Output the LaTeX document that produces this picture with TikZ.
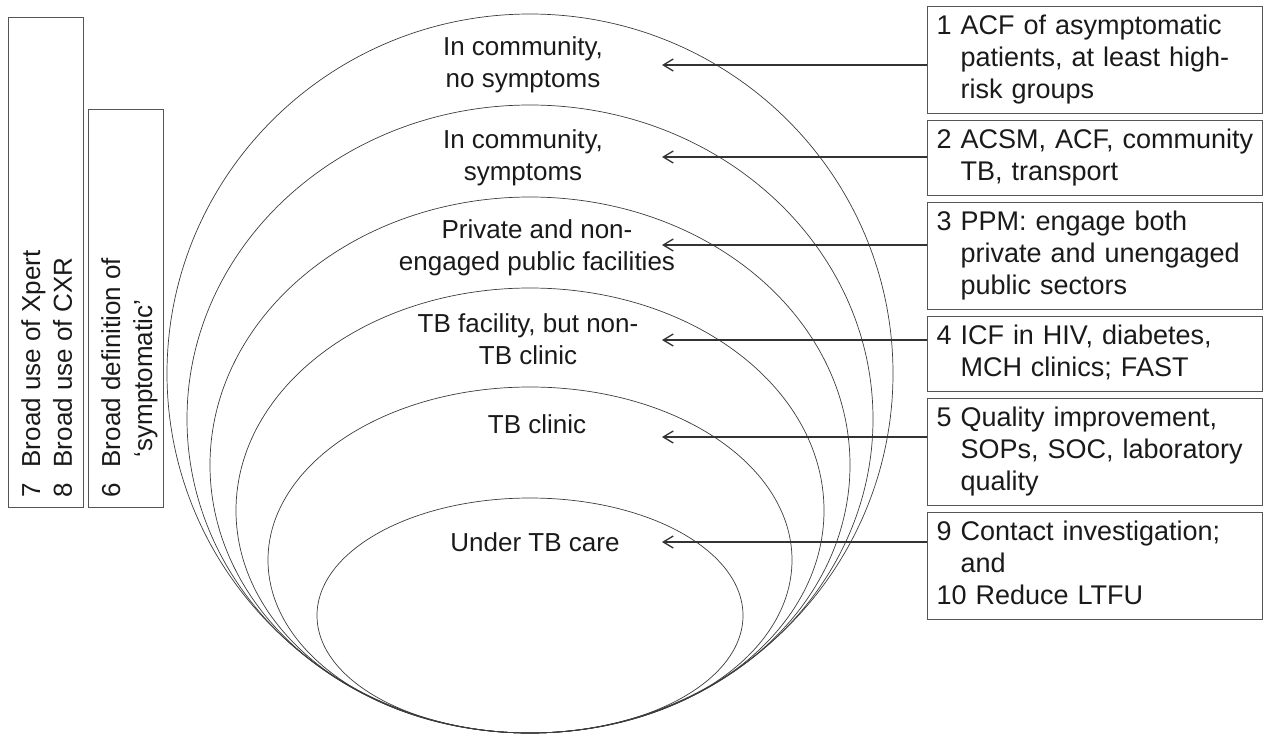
\documentclass[tikz,border=0pt]{standalone}
\usepackage{fontspec}
\setmainfont{Liberation Sans}
\usetikzlibrary{arrows.meta,positioning}
\definecolor{Ink}{HTML}{1A1A1A}
\definecolor{Frame}{HTML}{555555}
\definecolor{Ring}{HTML}{3C3C3C}
\definecolor{Pointer}{HTML}{333333}

\begin{document}
\begin{tikzpicture}[x=1pt, y=-1pt,
    every node/.style={font=\fontsize{26}{32}\selectfont, text=Ink, inner sep=0pt},
    ring/.style={draw=Ring, line width=0.7pt},
    lab/.style={align=center},
    actbox/.style={draw=Frame, line width=1pt, text width=317pt, inner xsep=9pt, inner ysep=5.5pt, align=left, font=\fontsize{27}{32}\selectfont},
    sidebox/.style={draw=Frame, line width=1pt, minimum width=75pt, anchor=south west},
    sidetext/.style={rotate=90, anchor=west},
    pointer/.style={draw=Pointer, line width=1.3pt, -{Straight Barb[length=10pt,width=12pt]}}]
    \useasboundingbox (0,0) rectangle (1264,734);
    % nested rings, all touching at the bottom
    \foreach \ytop/\rx in {14/363, 105/343, 197/320, 288/294, 387/262, 498/213}
      \draw[ring] (530,{(733+\ytop)/2}) ellipse [x radius=\rx, y radius={(733-\ytop)/2}];
    \node[lab] (lab1) at (523,65) {In community,\\no symptoms};
    \node[lab] (lab2) at (523,158) {In community,\\symptoms};
    \node[lab] (lab3) at (537,248) {Private and non-\\engaged public facilities};
    \node[lab] (lab4) at (528,339) {TB facility, but non-\\TB clinic};
    \node[lab] (lab5) at (537,424) {TB clinic};
    \node[lab] (lab6) at (535,542) {Under TB care};
    % actions on the right
    \node[actbox, anchor=north west] (act1) at (927,6) {\noindent\begin{tabular}{@{}l@{\hspace{9pt}}l@{}}1 & ACF of asymptomatic\\ & patients, at least high-\\ & risk groups\end{tabular}};
    \node[actbox, below=6pt of act1] (act2) {\noindent\begin{tabular}{@{}l@{\hspace{9pt}}l@{}}2 & ACSM, ACF, community\\ & TB, transport\end{tabular}};
    \node[actbox, below=6pt of act2] (act3) {\noindent\begin{tabular}{@{}l@{\hspace{9pt}}l@{}}3 & PPM: engage both\\ & private and unengaged\\ & public sectors\end{tabular}};
    \node[actbox, below=6pt of act3] (act4) {\noindent\begin{tabular}{@{}l@{\hspace{9pt}}l@{}}4 & ICF in HIV, diabetes,\\ & MCH clinics; FAST\end{tabular}};
    \node[actbox, below=6pt of act4] (act5) {\noindent\begin{tabular}{@{}l@{\hspace{9pt}}l@{}}5 & Quality improvement,\\ & SOPs, SOC, laboratory\\ & quality\end{tabular}};
    \node[actbox, below=6pt of act5] (act6) {\noindent\begin{tabular}{@{}l@{\hspace{9pt}}l@{}}9 & Contact investigation;\\ & and\\ \multicolumn{2}{@{}l@{}}{10 Reduce LTFU}\end{tabular}};
    \coordinate (tip1) at (662,65);
    \coordinate (tip2) at (662,157);
    \coordinate (tip3) at (662,245);
    \coordinate (tip4) at (662,340);
    \coordinate (tip5) at (662,437);
    \coordinate (tip6) at (662,542);
    \foreach \i in {1,...,6}
      \draw[pointer] (act\i.west |- tip\i) -- (tip\i);
    % cross-cutting boxes on the left
    \node[sidebox, minimum height=490pt] (tests) at (8,508) {};
    \node[sidebox, minimum height=398pt] (symdef) at (88,508) {};
    \node[sidetext] (teststxt) at (49.6,498) {\begin{tabular}{@{}l@{\hspace{16pt}}l@{}}7 & Broad use of Xpert\\8 & Broad use of CXR\end{tabular}};
    \node[sidetext] (symdeftxt) at (129.6,498) {\begin{tabular}{@{}l@{\hspace{16pt}}l@{}}6 & Broad definition of\\ & \hspace{10pt}‘symptomatic’\end{tabular}};
\end{tikzpicture}
\end{document}
